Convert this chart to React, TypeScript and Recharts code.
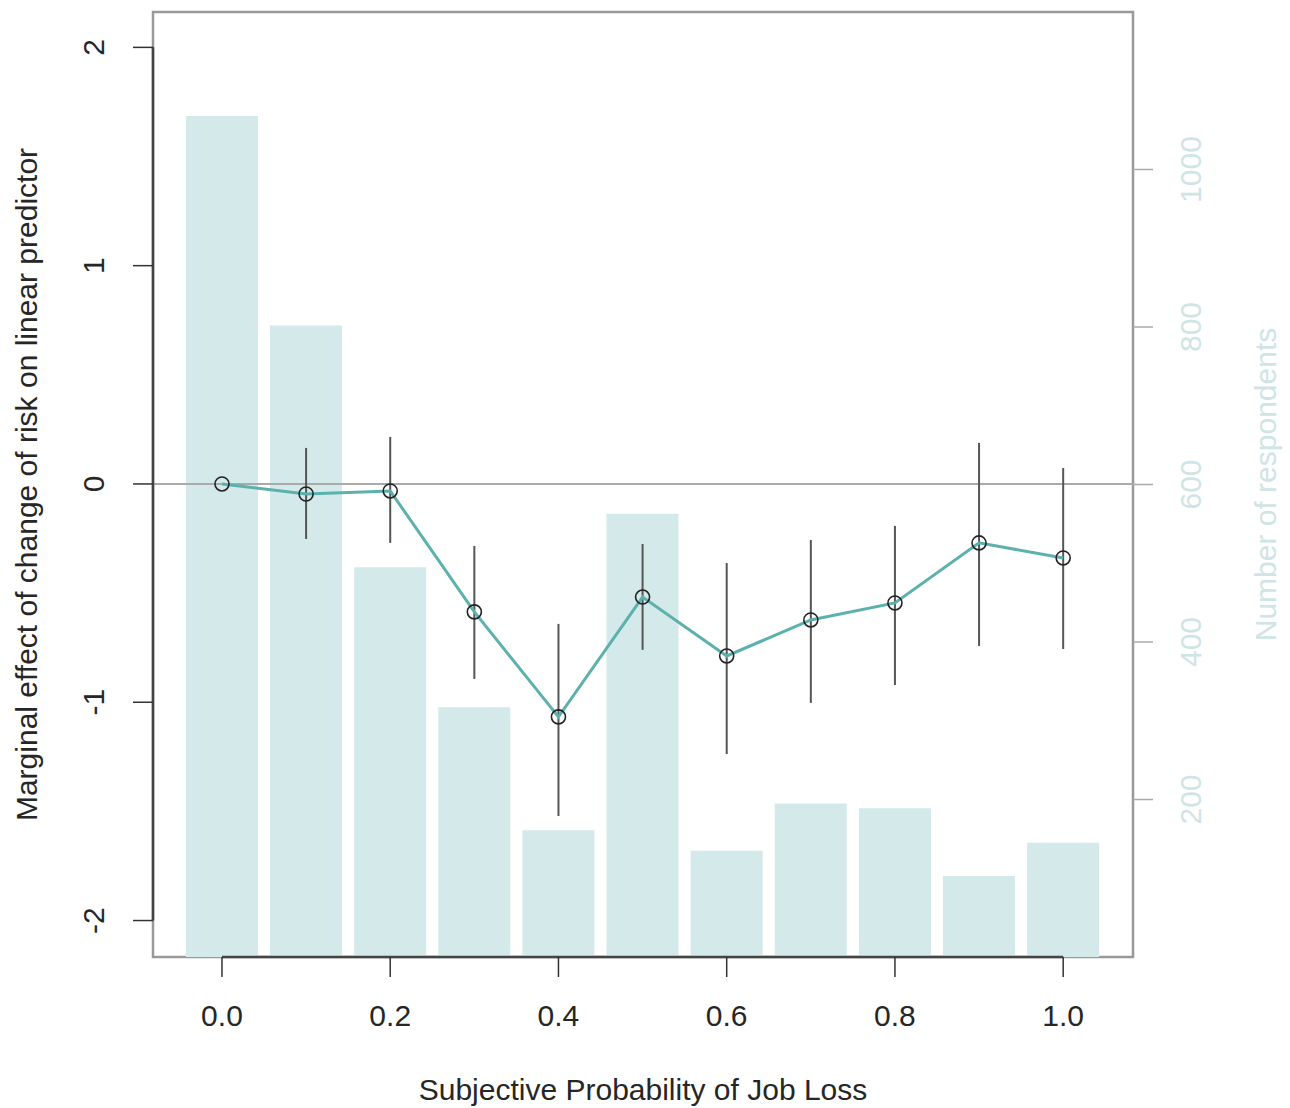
import React from "react";
import {
  ComposedChart,
  Bar,
  Line,
  XAxis,
  YAxis,
  ErrorBar,
  ReferenceLine,
  ReferenceArea,
  Label,
} from "recharts";

const probs = [0, 0.1, 0.2, 0.3, 0.4, 0.5, 0.6, 0.7, 0.8, 0.9, 1.0];
const respondents = [1068, 802, 495, 317, 161, 563, 135, 195, 189, 103, 145];
const effect = [0, -0.046, -0.032, -0.586, -1.067, -0.518, -0.788, -0.623, -0.545, -0.27, -0.339];
const lower = [0, -0.252, -0.27, -0.893, -1.521, -0.76, -1.237, -1.003, -0.921, -0.742, -0.756];
const upper = [0, 0.165, 0.215, -0.284, -0.641, -0.275, -0.362, -0.257, -0.192, 0.188, 0.073];

const xTicks = [0, 0.2, 0.4, 0.6, 0.8, 1.0];
const leftTicks = [-2, -1, 0, 1, 2];
const rightTicks = [200, 400, 600, 800, 1000];

const X_DOMAIN: [number, number] = [-0.082, 1.083];
const L_DOMAIN: [number, number] = [-2.167, 2.162];
const R_DOMAIN: [number, number] = [0, 1200];

const FONT = "'Liberation Sans', Arial, sans-serif";
const FS = 30;
const TEXT = "#262626";
const BAR_COLOR = "#d4e9ea";
const LINE_COLOR = "#5cb1ad";
const RIGHT_TEXT = "#cfe4e4";

const data = probs.map((p, i) => ({
  p,
  n: respondents[i],
  eff: effect[i],
  err: [effect[i] - lower[i], upper[i] - effect[i]],
}));

function LeftTick(props: any) {
  const { x, y, payload } = props;
  const tx = x - 39;
  return (
    <text
      x={tx}
      y={y}
      transform={`rotate(-90, ${tx}, ${y})`}
      textAnchor="middle"
      dominantBaseline="central"
      fontSize={FS}
      fontFamily={FONT}
      fill={TEXT}
    >
      {payload.value}
    </text>
  );
}

function RightTick(props: any) {
  const { x, y, payload } = props;
  const tx = x + 37;
  return (
    <text
      x={tx}
      y={y}
      transform={`rotate(-90, ${tx}, ${y})`}
      textAnchor="middle"
      dominantBaseline="central"
      fontSize={FS}
      fontFamily={FONT}
      fill={RIGHT_TEXT}
    >
      {payload.value}
    </text>
  );
}

function BottomTick(props: any) {
  const { x, y, payload } = props;
  return (
    <text
      x={x}
      y={y + 38}
      textAnchor="middle"
      dominantBaseline="central"
      fontSize={FS}
      fontFamily={FONT}
      fill={TEXT}
    >
      {Number(payload.value).toFixed(1)}
    </text>
  );
}

function VLabel(props: any) {
  const { viewBox, value, cx, fill } = props;
  const cy = viewBox.y + viewBox.height / 2;
  return (
    <text
      x={cx}
      y={cy}
      transform={`rotate(-90, ${cx}, ${cy})`}
      textAnchor="middle"
      dominantBaseline="central"
      fontSize={FS}
      fontFamily={FONT}
      fill={fill}
    >
      {value}
    </text>
  );
}

function HLabel(props: any) {
  const { viewBox, value, cy } = props;
  const cx = viewBox.x + viewBox.width / 2;
  return (
    <text
      x={cx}
      y={cy}
      textAnchor="middle"
      dominantBaseline="central"
      fontSize={FS}
      fontFamily={FONT}
      fill={TEXT}
    >
      {value}
    </text>
  );
}

function Ring(props: any) {
  const { cx, cy } = props;
  if (cx == null || cy == null) return null;
  return <circle cx={cx} cy={cy} r={7} fill="none" stroke="#222" strokeWidth={1.6} />;
}

export default function App() {
  return (
    <div style={{ position: "absolute", left: 0, top: 0, background: "#fff" }}>
      <ComposedChart
        width={1290}
        height={1108}
        data={data}
        margin={{ top: 12, right: 0, bottom: 0, left: 0 }}
      >
        <XAxis
          dataKey="p"
          type="number"
          domain={X_DOMAIN}
          ticks={xTicks}
          allowDataOverflow
          height={151}
          tickSize={20}
          tickMargin={0}
          axisLine={false}
          tickLine={{ stroke: "#333", strokeWidth: 1.5 }}
          tick={<BottomTick />}
        >
          <Label
            content={<HLabel cy={1089} />}
            value="Subjective Probability of Job Loss"
          />
        </XAxis>
        <YAxis
          yAxisId="left"
          orientation="left"
          width={153}
          domain={L_DOMAIN}
          ticks={leftTicks}
          allowDataOverflow
          tickSize={20}
          tickMargin={0}
          axisLine={false}
          tickLine={{ stroke: "#333", strokeWidth: 1.5 }}
          tick={<LeftTick />}
        >
          <Label
            content={<VLabel cx={26} fill={TEXT} />}
            value="Marginal effect of change of risk on linear predictor"
          />
        </YAxis>
        <YAxis
          yAxisId="right"
          orientation="right"
          width={157}
          domain={R_DOMAIN}
          ticks={rightTicks}
          allowDataOverflow
          tickSize={20}
          tickMargin={0}
          axisLine={false}
          tickLine={{ stroke: "#aaa", strokeWidth: 1.5 }}
          tick={<RightTick />}
        >
          <Label
            content={<VLabel cx={1265} fill={RIGHT_TEXT} />}
            value="Number of respondents"
          />
        </YAxis>

        <Bar
          yAxisId="right"
          dataKey="n"
          fill={BAR_COLOR}
          barSize={72}
          isAnimationActive={false}
        />

        <ReferenceLine yAxisId="left" y={0} stroke="#aaa" strokeWidth={2} />

        <ReferenceArea
          yAxisId="left"
          x1={X_DOMAIN[0]}
          x2={X_DOMAIN[1]}
          y1={L_DOMAIN[0]}
          y2={L_DOMAIN[1]}
          fill="none"
          stroke="#999"
          strokeWidth={2.5}
          ifOverflow="visible"
        />
        <ReferenceLine
          yAxisId="left"
          segment={[
            { x: X_DOMAIN[0], y: leftTicks[0] },
            { x: X_DOMAIN[0], y: leftTicks[leftTicks.length - 1] },
          ]}
          stroke="#444"
          strokeWidth={2.5}
          ifOverflow="visible"
        />
        <ReferenceLine
          yAxisId="left"
          segment={[
            { x: xTicks[0], y: L_DOMAIN[0] },
            { x: xTicks[xTicks.length - 1], y: L_DOMAIN[0] },
          ]}
          stroke="#444"
          strokeWidth={2.5}
          ifOverflow="visible"
        />

        <Line
          yAxisId="left"
          dataKey="eff"
          stroke={LINE_COLOR}
          strokeWidth={3}
          dot={<Ring />}
          activeDot={false}
          isAnimationActive={false}
        >
          <ErrorBar dataKey="err" width={0} stroke="#555" strokeWidth={2} direction="y" />
        </Line>
      </ComposedChart>
    </div>
  );
}
